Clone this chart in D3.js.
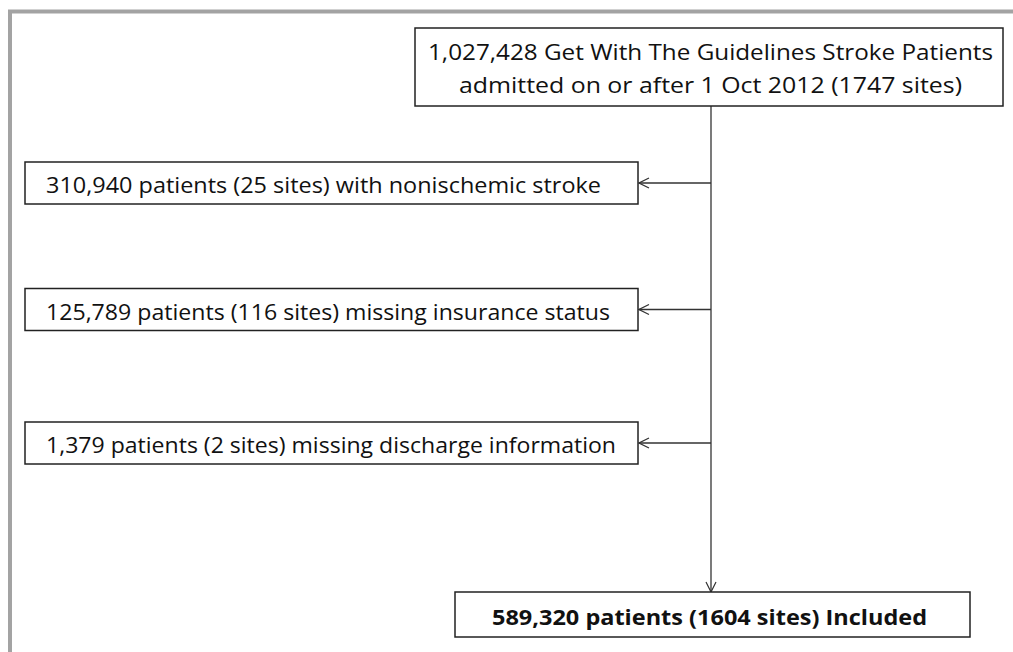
<!DOCTYPE html>
<html>
<head>
<meta charset="utf-8">
<script src="https://cdn.jsdelivr.net/npm/d3@7"></script>
<style>
  html, body { margin: 0; padding: 0; background: #fff; }
  svg { display: block; }
</style>
</head>
<body>
<svg id="flow"></svg>
<script>
const width = 1013;
const height = 652;

// flow data
const startLines = ['1,027,428 Get With The Guidelines Stroke Patients', 'admitted on or after 1 Oct 2012 (1747 sites)'];
const exclusions = [
    '310,940 patients (25 sites) with nonischemic stroke',
    '125,789 patients (116 sites) missing insurance status',
    '1,379 patients (2 sites) missing discharge information'
];
const finalLabel = '589,320 patients (1604 sites) Included';

// layout
const spineX = 711;
const topBox = { x: 415, y: 28, w: 588, h: 78 };
const exBox = { x: 25, w: 613, h: 42 };
const endBox = { x: 455, y: 592, w: 515, h: 45 };
const startWidths = [565, 503];
const exWidths = [555, 564, 570];
const endWidth = 435;
const rowCenters = [183, 309.5, 443];

const svg = d3.select('#flow')
    .attr('width', width)
    .attr('height', height);

const font = "'Open Sans', 'DejaVu Sans', sans-serif";
const fontSize = 22;

// outer frame (grey, only top and left visible)
svg.append('path')
    .attr('d', `M10,${height} V11.5 H${width}`)
    .attr('fill', 'none')
    .attr('stroke', '#a3a3a3')
    .attr('stroke-width', 4);

const defs = svg.append('defs');
defs.append('marker')
    .attr('id', 'arr')
    .attr('viewBox', '0 0 12 12')
    .attr('refX', 11).attr('refY', 6)
    .attr('markerWidth', 12).attr('markerHeight', 12)
    .attr('markerUnits', 'userSpaceOnUse')
    .attr('orient', 'auto')
    .append('path')
    .attr('d', 'M1,1 L11,6 L1,11')
    .attr('fill', 'none')
    .attr('stroke', '#333')
    .attr('stroke-width', 1.2);

// spine
svg.append('line')
    .attr('x1', spineX).attr('x2', spineX)
    .attr('y1', topBox.y + topBox.h).attr('y2', endBox.y)
    .attr('stroke', '#333').attr('stroke-width', 1.3)
    .attr('marker-end', 'url(#arr)');

// top box
svg.append('rect')
    .attr('x', topBox.x).attr('y', topBox.y)
    .attr('width', topBox.w).attr('height', topBox.h)
    .attr('fill', '#fff').attr('stroke', '#222').attr('stroke-width', 1.5);

svg.selectAll('.start')
    .data(startLines)
    .enter().append('text')
    .attr('class', 'start')
    .attr('x', 710.5)
    .attr('y', (d, i) => 51 + i * 33)
    .attr('text-anchor', 'middle')
    .attr('dominant-baseline', 'central')
    .attr('font-family', font)
    .attr('font-size', fontSize)
    .attr('fill', '#111')
    .attr('textLength', (d, i) => startWidths[i])
    .attr('lengthAdjust', 'spacingAndGlyphs')
    .text(d => d);

// exclusion rows
const rows = svg.selectAll('.ex')
    .data(exclusions)
    .enter().append('g')
    .attr('class', 'ex')
    .attr('transform', (d, i) => `translate(0, ${rowCenters[i]})`);

rows.append('line')
    .attr('x1', spineX).attr('x2', exBox.x + exBox.w + 1)
    .attr('y1', 0).attr('y2', 0)
    .attr('stroke', '#333').attr('stroke-width', 1.3)
    .attr('marker-end', 'url(#arr)');

rows.append('rect')
    .attr('x', exBox.x).attr('y', -exBox.h / 2)
    .attr('width', exBox.w).attr('height', exBox.h)
    .attr('fill', '#fff').attr('stroke', '#222').attr('stroke-width', 1.5);

rows.append('text')
    .attr('x', 46)
    .attr('y', 1)
    .attr('text-anchor', 'start')
    .attr('dominant-baseline', 'central')
    .attr('font-family', font)
    .attr('font-size', fontSize)
    .attr('fill', '#111')
    .attr('textLength', (d, i) => exWidths[i])
    .attr('lengthAdjust', 'spacingAndGlyphs')
    .text(d => d);

// final box
svg.append('rect')
    .attr('x', endBox.x).attr('y', endBox.y)
    .attr('width', endBox.w).attr('height', endBox.h)
    .attr('fill', '#fff').attr('stroke', '#222').attr('stroke-width', 1.5);

svg.append('text')
    .attr('x', 709.5)
    .attr('y', endBox.y + endBox.h / 2 + 1)
    .attr('text-anchor', 'middle')
    .attr('dominant-baseline', 'central')
    .attr('font-family', font)
    .attr('font-size', fontSize)
    .attr('font-weight', 'bold')
    .attr('fill', '#111')
    .attr('textLength', endWidth)
    .attr('lengthAdjust', 'spacingAndGlyphs')
    .text(finalLabel);
</script>
</body>
</html>
